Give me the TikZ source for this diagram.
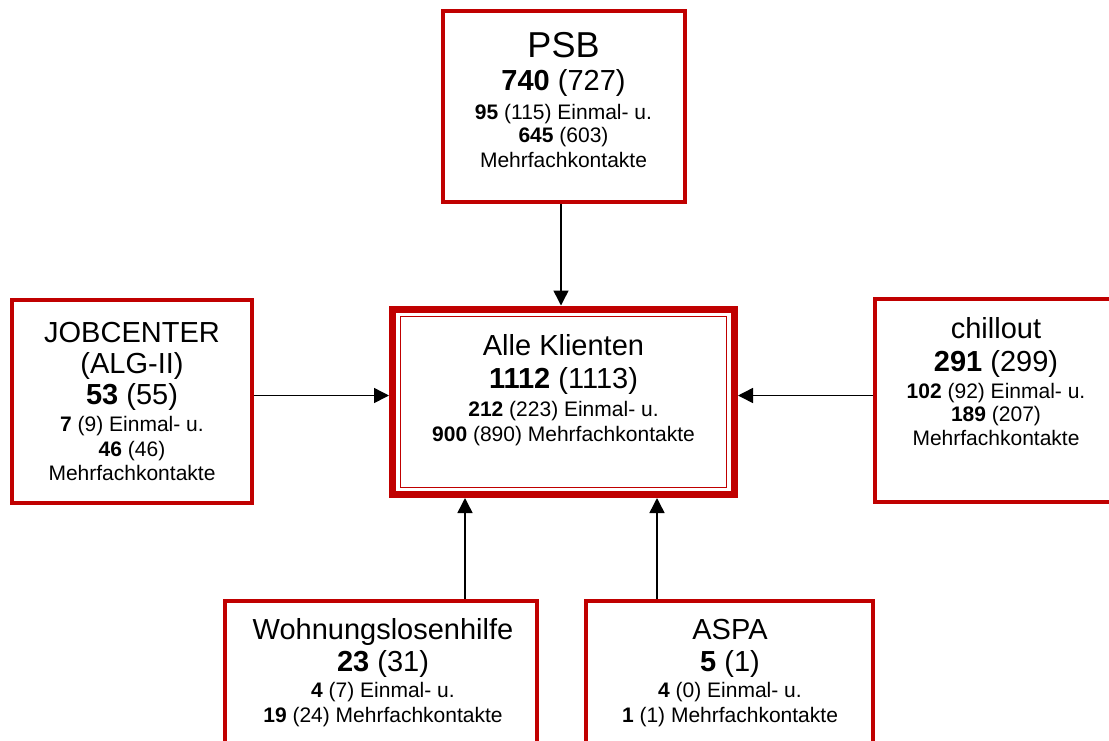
\documentclass[tikz,border=0pt]{standalone}
\usepackage{fontspec}
\setmainfont{Liberation Sans}
\usetikzlibrary{arrows.meta}
\definecolor{boxred}{RGB}{192,0,0}
\begin{document}
\begin{tikzpicture}[x=1pt,y=-1pt,
  box/.style={draw=boxred,line width=4pt,fill=white,rectangle,inner sep=0pt},
  arr/.style={draw=black,line width=1.5pt,-{Triangle[length=15pt,width=15pt]}},
  tbig/.style={anchor=base,inner sep=0pt,font=\fontsize{29}{34}\selectfont},
  tsmall/.style={anchor=base,inner sep=0pt,font=\fontsize{21}{25}\selectfont},
  thuge/.style={anchor=base,inner sep=0pt,font=\fontsize{36}{42}\selectfont}]
\useasboundingbox (0,0) rectangle (1109,740);
\clip (0,0) rectangle (1109,740);
% boxes
\node[box,minimum width=242pt,minimum height=191pt] (psb) at (563.5,106.5) {};
\node[box,minimum width=240pt,minimum height=203pt] (job) at (132,401) {};
\node[box,minimum width=242pt,minimum height=203pt] (chill) at (996,400.5) {};
\node[box,minimum width=312pt,minimum height=191pt] (wohn) at (381.4,696.5) {};
\node[box,minimum width=287pt,minimum height=191pt] (aspa) at (729,696.5) {};
\node[box,line width=7pt,minimum width=342pt,minimum height=185.5pt] (cen) at (563.5,401.75) {};
\node[draw=boxred,line width=1.5pt,inner sep=0pt,minimum width=326pt,minimum height=171pt] (cenin) at (563.6,402.2) {};
% connector guides
\coordinate (ay) at (0,395.5);
\coordinate (ax1) at (561,0);
\coordinate (ax2) at (465,0);
\coordinate (ax3) at (657,0);
\draw[arr] (psb.south -| ax1) -- (cen.north -| ax1);
\draw[arr] (job.east |- ay) -- (cen.west |- ay);
\draw[arr] (chill.west |- ay) -- (cen.east |- ay);
\draw[arr] (wohn.north -| ax2) -- (cen.south -| ax2);
\draw[arr] (aspa.north -| ax3) -- (cen.south -| ax3);
% PSB text
\node[thuge] (psb1) at (563.5,57) {PSB};
\node[tbig] (psb2) at (563.5,90.5) {\textbf{740} (727)};
\node[tsmall] (psb3) at (563.5,119.5) {\textbf{95} (115) Einmal- u.};
\node[tsmall] (psb4) at (563.5,142.5) {\textbf{645} (603)};
\node[tsmall] (psb5) at (563.5,167.5) {Mehrfachkontakte};
% centre text
\node[tbig] (cen1) at (563.5,355.7) {Alle Klienten};
\node[tbig] (cen2) at (563.5,388.3) {\textbf{1112} (1113)};
\node[tsmall] (cen3) at (563.5,416) {\textbf{212} (223) Einmal- u.};
\node[tsmall] (cen4) at (563.5,441.7) {\textbf{900} (890) Mehrfachkontakte};
% JOBCENTER text
\node[tbig] (job1) at (132,342) {JOBCENTER};
\node[tbig] (job2) at (132,373) {(ALG-II)};
\node[tbig] (job3) at (132,404) {\textbf{53} (55)};
\node[tsmall] (job4) at (132,431) {\textbf{7} (9) Einmal- u.};
\node[tsmall] (job5) at (132,456) {\textbf{46} (46)};
\node[tsmall] (job6) at (132,480.5) {Mehrfachkontakte};
% chillout text
\node[tbig] (ch1) at (996,338.5) {chillout};
\node[tbig] (ch2) at (996,371.5) {\textbf{291} (299)};
\node[tsmall] (ch3) at (996,398.5) {\textbf{102} (92) Einmal- u.};
\node[tsmall] (ch4) at (996,421.5) {\textbf{189} (207)};
\node[tsmall] (ch5) at (996,445.5) {Mehrfachkontakte};
% Wohnungslosenhilfe text
\node[tbig] (wo1) at (383,639.5) {Wohnungslosenhilfe};
\node[tbig] (wo2) at (383,671.5) {\textbf{23} (31)};
\node[tsmall] (wo3) at (383,697.5) {\textbf{4} (7) Einmal- u.};
\node[tsmall] (wo4) at (383,722.5) {\textbf{19} (24) Mehrfachkontakte};
% ASPA text
\node[tbig] (as1) at (730,639.5) {ASPA};
\node[tbig] (as2) at (730,671.5) {\textbf{5} (1)};
\node[tsmall] (as3) at (730,697.5) {\textbf{4} (0) Einmal- u.};
\node[tsmall] (as4) at (730,722.5) {\textbf{1} (1) Mehrfachkontakte};
\end{tikzpicture}
\end{document}
